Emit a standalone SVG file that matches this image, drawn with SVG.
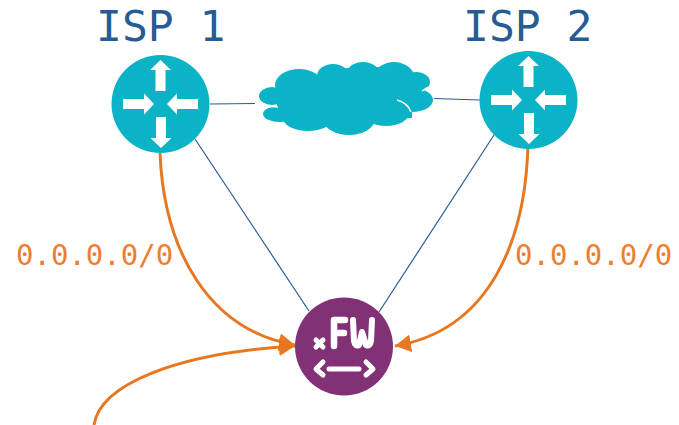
<svg xmlns="http://www.w3.org/2000/svg" width="679" height="425" viewBox="0 0 679 425">
<style>
.isp{font-family:"DejaVu Sans Mono",monospace;font-size:43px;fill:#275b93}
.rt{font-family:"DejaVu Sans Mono",monospace;font-size:29px;fill:#ed7d31}
.teal{fill:#0bb3c7}
.arw{fill:#fff}
.thin{fill:none;stroke:#2a5a94;stroke-width:1.2}
.or{fill:none;stroke:#e87722;stroke-width:3}
.cgap{fill:none;stroke:#fff;stroke-width:1.5}
.fw{fill:none;stroke:#fff;stroke-linecap:round;stroke-linejoin:round}
</style>
<defs>
<marker id="ah" markerUnits="userSpaceOnUse" markerWidth="17" markerHeight="18" refX="16" refY="9" orient="auto"><path d="M0 0L16 9L0 18Z" fill="#e87722"/></marker>
<g id="router">
<circle r="49" class="teal"/>
<path class="arw" d="M0-44L-10.500-34-5-34-5-13 5-13 5-34 10.500-34Z"/>
<path class="arw" d="M0.500 44L11 34 5.500 34 5.500 13-4.500 13-4.500 34-10 34Z"/>
<path class="arw" d="M-6.500 0L-16.500-10.500-16.500-5-37.500-5-37.500 5-16.500 5-16.500 10.500Z"/>
<path class="arw" d="M6.500 0L16.500-10.500 16.500-5 37.500-5 37.500 5 16.500 5 16.500 10.500Z"/>
</g>
</defs>
<g id="connectors">
<path class="thin" d="M210 104L255 103.500"/>
<path class="thin" d="M434 98.500L480 100"/>
<path class="thin" d="M195 139L309 311"/>
<path class="thin" d="M494 135L379 312"/>
<path class="or" marker-end="url(#ah)" d="M160 153C164 250 208 330 295 345"/>
<path class="or" marker-end="url(#ah)" d="M528 143C526 240 490 330 395 346"/>
<path class="or" marker-end="url(#ah)" d="M94 425C100 385 175 353 295 346"/>
</g>
<g id="isp1">
<use href="#router" x="160.500" y="104"/>
<text class="isp" x="96" y="41">ISP 1</text>
</g>
<g id="isp2">
<use href="#router" x="528.500" y="100"/>
<text class="isp" x="463" y="41">ISP 2</text>
</g>
<g id="cloud">
<ellipse class="teal" cx="299" cy="85" rx="24" ry="16"/>
<ellipse class="teal" cx="333" cy="76" rx="16" ry="12"/>
<ellipse class="teal" cx="363" cy="75" rx="17" ry="13"/>
<ellipse class="teal" cx="394" cy="77" rx="20" ry="15"/>
<ellipse class="teal" cx="416" cy="82" rx="14" ry="10"/>
<ellipse class="teal" cx="412" cy="100" rx="21" ry="12"/>
<ellipse class="teal" cx="272" cy="96" rx="13" ry="9"/>
<ellipse class="teal" cx="280" cy="114" rx="17" ry="8"/>
<ellipse class="teal" cx="308" cy="118" rx="25" ry="13"/>
<ellipse class="teal" cx="349" cy="119" rx="26" ry="16"/>
<ellipse class="teal" cx="386" cy="113" rx="23" ry="13"/>
<rect class="teal" x="277" y="80" width="135" height="38"/>
<path class="teal" d="M318 80L321 70L348 68L377 67L400 70V82Z"/>
<path class="cgap" d="M397 100C404 102 409 106 411 112"/>
<path class="cgap" d="M422 91L428 87"/>
<path class="cgap" d="M262 106L278 107"/>
</g>
<g id="fw">
<circle cx="344" cy="346.500" r="49" fill="#833177"/>
<path class="fw" stroke-width="5" d="M316 340L323 347M323 340L316 347"/>
<path class="fw" stroke-width="6.500" d="M334 346V320H345M334 333H344"/>
<path class="fw" stroke-width="6" d="M353 320L354 341Q355 347 359 345L362 332L366 345Q370 347 371 341L372 320"/>
<path class="fw" stroke-width="5" d="M323 362L316 369L323 375M366 362L373 369L366 375"/>
<path class="fw" stroke-width="5" d="M329 369H359"/>
</g>
<text class="rt" x="16" y="265">0.0.0.0/0</text>
<text class="rt" x="515" y="265">0.0.0.0/0</text>
</svg>
